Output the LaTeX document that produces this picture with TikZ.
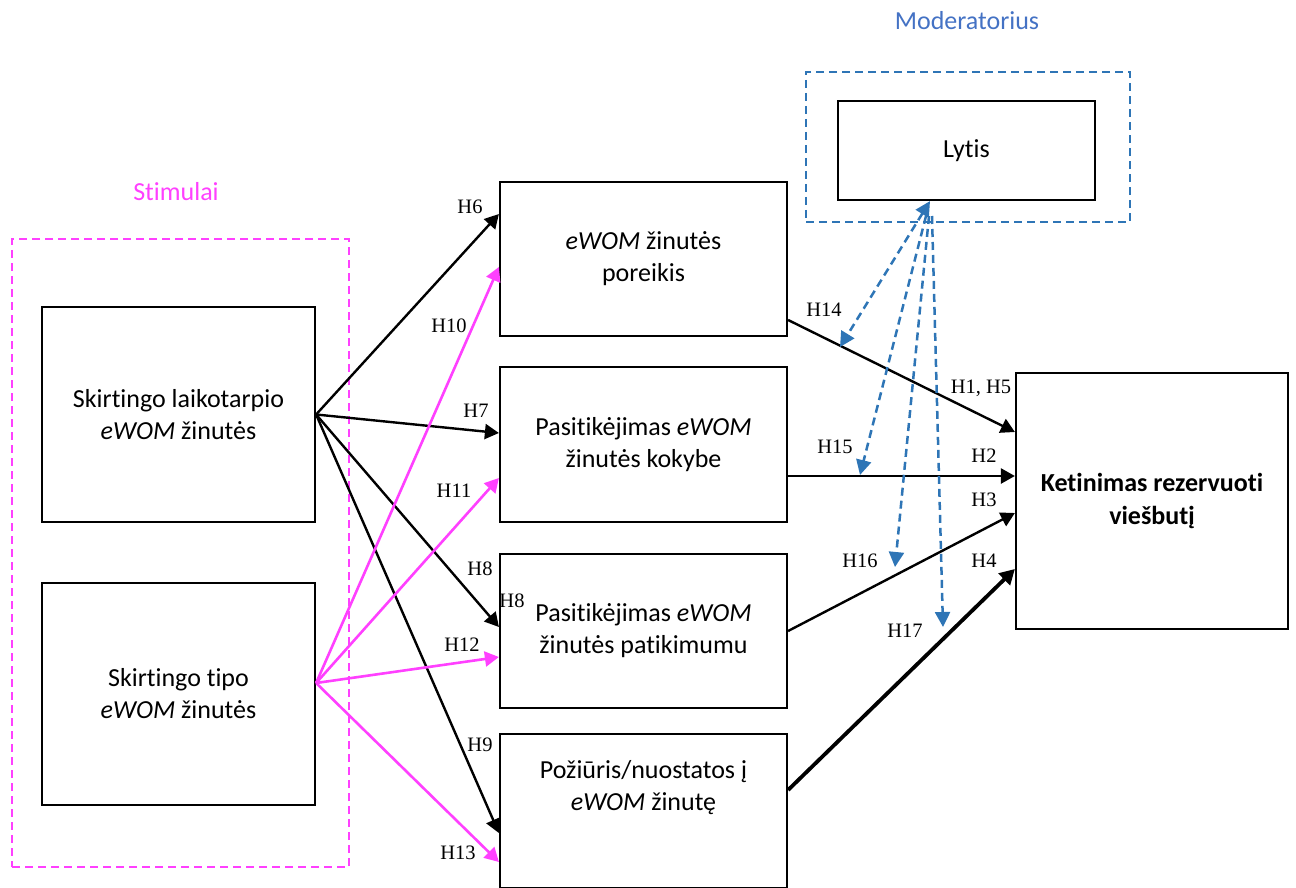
\documentclass[tikz,border=0pt]{standalone}
\usepackage{fontspec}
\setmainfont{Carlito}[Ligatures=NoCommon]
\newfontfamily\hypfont{Liberation Serif}
\usetikzlibrary{arrows.meta,calc}

\definecolor{stimcol}{HTML}{FF40FF}
\definecolor{modcol}{HTML}{2E75B6}
\definecolor{modtext}{HTML}{4472C4}

\begin{document}
\begin{tikzpicture}[x=1pt,y=-1pt,
  box/.style={draw,line width=2.2pt,rectangle,inner sep=0pt,align=center,
    font=\fontsize{26}{32}\selectfont},
  txt/.style={inner sep=0pt,align=center,font=\fontsize{26}{32}\selectfont},
  frame/.style={draw,line width=2pt,rectangle,inner sep=0pt,dash pattern=on 8pt off 5pt},
  hyp/.style={inner sep=0pt,font=\hypfont\fontsize{20.5}{22}\selectfont},
  tip/.style={-{Triangle[length=14pt,width=15pt]}},
  arr/.style={line width=2.4pt,tip},
  marr/.style={stimcol,line width=2.6pt,tip},
  barr/.style={modcol,line width=2.5pt,dash pattern=on 8pt off 5pt,
    -{Triangle[length=15pt,width=15pt]}}
]
\useasboundingbox (0,0) rectangle (1296,888);

% group frames and their titles
\node[frame,stimcol,minimum width=337pt,minimum height=628pt] (stim) at (180.5,553) {};
\node[txt,stimcol] (stimlbl) at (176,192) {Stimulai};
\node[frame,modcol,minimum width=324pt,minimum height=150pt] (mod) at (968,147) {};
\node[txt,modtext] (modlbl) at (967,21) {Moderatorius};

% left: stimuli
\node[box,minimum width=273pt,minimum height=215pt] (l1) at (178.5,414.5)
  {Skirtingo laikotarpio\\\textit{eWOM} žinutės};
\node[box,minimum width=273pt,minimum height=222pt] (l2) at (178.5,694)
  {Skirtingo tipo\\\textit{eWOM} žinutės};

% middle: mediators
\node[box,minimum width=287pt,minimum height=154pt] (b1) at (643.5,259)
  {\textit{eWOM} žinutės\\poreikis};
\node[box,minimum width=287pt,minimum height=155pt] (b2) at (643.5,444.5)
  {Pasitikėjimas \textit{eWOM}\\žinutės kokybe};
\node[box,minimum width=287pt,minimum height=154pt] (b3) at (643.5,631)
  {Pasitikėjimas \textit{eWOM}\\žinutės patikimumu};
\node[box,minimum width=287pt,minimum height=154pt] (b4) at (643.5,811) {};
\node[txt] (b4t) at (643.5,788) {Požiūris/nuostatos į\\\textit{eWOM} žinutę};

% right: outcome and moderator
\node[box,minimum width=272pt,minimum height=256pt,font=\fontsize{26}{33}\selectfont\bfseries]
  (k) at (1152,501) {Ketinimas rezervuoti\\viešbutį};
\node[box,minimum width=257pt,minimum height=99pt] (lyt) at (966.5,150.5) {Lytis};

% stimuli -> mediators
\draw[arr] (l1.east) -- ([yshift=45pt]b1.west);
\draw[arr] (l1.east) -- ([yshift=11.5pt]b2.west);
\draw[arr] (l1.east) -- ([yshift=4pt]b3.west);
\draw[arr] (l1.east) -- ([yshift=-22pt]b4.west);

\coordinate (s2) at ([yshift=11pt]l2.east);
\draw[marr] (s2) -- ([yshift=-8pt]b1.west);
\draw[marr] (s2) -- ([yshift=-33.5pt]b2.west);
\draw[marr] (s2) -- ([yshift=-26pt]b3.west);
\draw[marr] (s2) -- ([yshift=-51pt]b4.west);

% mediators -> intention
\draw[arr] ([yshift=-61pt]b1.east) -- ([yshift=69pt]k.west);
\draw[arr] ([yshift=-31.5pt]b2.east) -- ([yshift=25pt]k.west);
\draw[arr] (b3.east) -- ([yshift=-12pt]k.west);
\draw[line width=3.8pt,-{Triangle[length=15pt,width=16pt]}] ([yshift=21pt]b4.east) -- ([yshift=-68pt]k.west);

% moderating effects of gender
\coordinate (m0) at ([xshift=-36.5pt]lyt.south);
\coordinate (m15) at (926,216);
\coordinate (m16) at (929,216);
\coordinate (m17) at (932,216);
\coordinate (t14) at (840,347);
\coordinate (t15) at (860,475);
\coordinate (t16) at (895,567);
\coordinate (t17) at (943,627);
\draw[barr,{Triangle[length=15pt,width=15pt]}-{Triangle[length=15pt,width=15pt]}] (m0) -- (t14);
\draw[barr] (m15) -- (t15);
\draw[barr] (m16) -- (t16);
\draw[barr] (m17) -- (t17);

% hypothesis labels
\node[hyp] (h6) at (470,207) {H6};
\node[hyp] (h7) at (476,411) {H7};
\node[hyp] (h8) at (480,569) {H8};
\node[hyp] (h8b) at (512,601) {H8};
\node[hyp] (h9) at (480,745) {H9};
\node[hyp] (h10) at (449,326) {H10};
\node[hyp] (h11) at (454,491) {H11};
\node[hyp] (h12) at (462,645) {H12};
\node[hyp] (h13) at (458,853) {H13};
\node[hyp] (h14) at (824,310) {H14};
\node[hyp] (h15) at (835,447) {H15};
\node[hyp] (h16) at (860,561) {H16};
\node[hyp] (h17) at (905,631) {H17};
\node[hyp] (h1) at (981,388) {H1, H5};
\node[hyp] (h2) at (984,456) {H2};
\node[hyp] (h3) at (984,500) {H3};
\node[hyp] (h4) at (984,561) {H4};
\end{tikzpicture}
\end{document}
